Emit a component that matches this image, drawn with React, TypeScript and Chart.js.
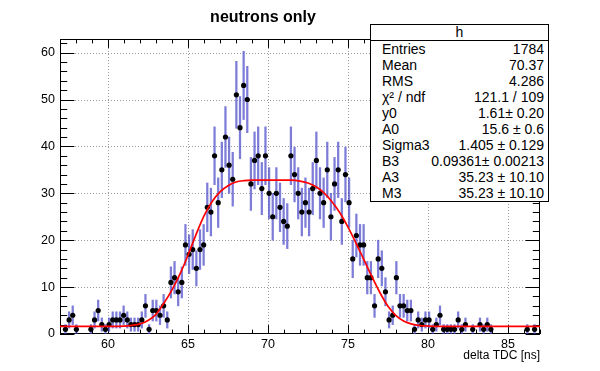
import React, { useEffect, useRef } from "react";
import { Chart, registerables } from "chart.js";

Chart.register(...registerables);

// ---------- data ----------
const X_MIN = 57;
const X_MAX = 87;
const N_BINS = 132;
const Y_MIN = 0;
const Y_MAX = 62.9;

// histogram contents, one per bin (bin i covers X_MIN + i*w .. X_MIN + (i+1)*w)
const COUNTS = [
  0, 1, 3, 4, 1, 0, 0, 0, 1, 3,
  5, 2, 1, 2, 3, 3, 3, 4, 3, 2,
  2, 2, 3, 6, 1, 5, 5, 4, 6, 3,
  11, 12, 9, 11, 19, 17, 18, 14, 18, 19,
  27, 26, 38, 28, 35, 42, 36, 33, 51, 44,
  53, 50, 32, 37, 38, 31, 38, 30, 25, 30,
  27, 24, 23, 38, 34, 30, 26, 28, 26, 31,
  37, 30, 28, 35, 25, 32, 35, 24, 34, 28,
  16, 21, 19, 19, 12, 12, 6, 16, 14, 9,
  3, 4, 12, 6, 6, 5, 5, 1, 3, 2,
  3, 3, 1, 2, 4, 1, 1, 1, 1, 3,
  1, 2, 0, 1, 0, 2, 1, 2, 1, 0,
  0, 0, 0, 0, 0, 0, 0, 0, 1, 0,
  1, 0,
];

// fitted curve
const FIT_X = [
  57, 60, 61, 61.5, 62, 62.5, 63, 63.5, 64, 64.5, 65, 65.5, 66, 66.5, 67, 67.5,
  68, 68.5, 69, 71.5, 72, 72.5, 73, 73.5, 74, 74.5, 75, 75.5, 76, 76.5, 77, 77.5,
  78, 78.5, 79, 79.5, 80, 81, 87,
];
const FIT_Y = [
  1.61, 1.62, 1.7, 1.85, 2.15, 2.9, 4.2, 6.6, 9.4, 12.8, 16.8, 21.2, 25.2, 28.2, 30.3, 31.6,
  32.4, 32.7, 32.8, 32.8, 32.6, 32.2, 31.4, 30.1, 28.2, 25.8, 22.8, 19.4, 15.8, 12.2, 8.8, 5.9,
  3.9, 2.7, 2.1, 1.8, 1.7, 1.62, 1.61,
];

const X_TICKS = [60, 65, 70, 75, 80, 85];
const Y_TICKS = [0, 10, 20, 30, 40, 50, 60];
const X_MINOR_STEP = 1;
const Y_MINOR_STEP = 2;

const TITLE = "neutrons only";
const X_TITLE = "delta TDC [ns]";
const STATS_HEADER = "h";
const STAT_LABELS = ["Entries", "Mean", "RMS", "χ² / ndf", "y0", "A0", "Sigma3", "B3", "A3", "M3"];
const STAT_VALUES = [
  "1784",
  "70.37",
  "4.286",
  "121.1 / 109",
  "1.61± 0.20",
  "15.6 ± 0.6",
  "1.405 ± 0.129",
  "0.09361± 0.00213",
  "35.23 ± 10.10",
  "35.23 ± 10.10",
];

const FONT = "'Liberation Sans', Arial, Helvetica, sans-serif";
const STATS_FONT = "'Liberation Sans Narrow', 'Arial Narrow', 'Liberation Sans', Arial, sans-serif";

// ---------- frame / grid / ROOT style ticks ----------
const rootFrame = {
  id: "rootFrame",
  beforeDatasetsDraw(chart: any) {
    const { ctx, chartArea: a, scales } = chart;
    const x = scales.x;
    const y = scales.y;
    const line = (x1: number, y1: number, x2: number, y2: number) => {
      ctx.beginPath();
      ctx.moveTo(x1, y1);
      ctx.lineTo(x2, y2);
      ctx.stroke();
    };
    ctx.save();
    // dotted grid
    ctx.strokeStyle = "#9a9a9a";
    ctx.lineWidth = 1;
    ctx.setLineDash([1, 2]);
    X_TICKS.forEach((v) => {
      const px = Math.round(x.getPixelForValue(v)) + 0.5;
      line(px, a.top, px, a.bottom);
    });
    Y_TICKS.forEach((v) => {
      if (v <= Y_MIN) return;
      const py = Math.round(y.getPixelForValue(v)) + 0.5;
      line(a.left, py, a.right, py);
    });
    ctx.setLineDash([]);
    // ticks (inside the frame, on all four sides)
    ctx.strokeStyle = "#000";
    const h = a.bottom - a.top;
    const w = a.right - a.left;
    const xMajor = 0.03 * h;
    const yMajor = 0.03 * w;
    for (let v = Math.ceil(X_MIN); v <= X_MAX; v += X_MINOR_STEP) {
      const len = v % 5 === 0 ? xMajor : xMajor / 2;
      const px = Math.round(x.getPixelForValue(v)) + 0.5;
      line(px, a.bottom, px, a.bottom - len);
      line(px, a.top, px, a.top + len);
    }
    for (let v = Y_MIN; v <= Y_MAX; v += Y_MINOR_STEP) {
      const len = v % 10 === 0 ? yMajor : yMajor / 2;
      const py = Math.round(y.getPixelForValue(v)) + 0.5;
      line(a.left, py, a.left + len, py);
      line(a.right, py, a.right - len, py);
    }
    // frame
    ctx.strokeRect(Math.round(a.left) + 0.5, Math.round(a.top) + 0.5, Math.round(w) - 1, Math.round(h) - 1);
    ctx.restore();
  },
};

export default function App() {
  const ref = useRef<HTMLCanvasElement>(null);

  useEffect(() => {
    document.body.style.margin = "0";
    const binWidth = (X_MAX - X_MIN) / N_BINS;
    const bins = COUNTS.map((c, i) => ({ x: X_MIN + (i + 0.5) * binWidth, c })).filter((b) => b.c > 0);
    const points = bins.map((b) => ({ x: b.x, y: b.c }));
    const errors = bins.map((b) => ({ x: b.x, y: [b.c - Math.sqrt(b.c), b.c + Math.sqrt(b.c)] }));
    const fit = FIT_X.map((v, i) => ({ x: v, y: FIT_Y[i] }));

    const tickFont = { family: FONT, size: 12.5 };

    const chart = new Chart(ref.current as HTMLCanvasElement, {
      type: "scatter",
      data: {
        datasets: [
          {
            type: "line",
            data: fit,
            borderColor: "#ff0000",
            borderWidth: 1.7,
            pointRadius: 0,
            cubicInterpolationMode: "monotone",
            fill: false,
          } as any,
          {
            type: "scatter",
            data: points,
            pointRadius: 2.6,
            pointBackgroundColor: "#000",
            pointBorderWidth: 0,
            showLine: false,
          } as any,
          {
            type: "bar",
            data: errors,
            backgroundColor: "rgba(70,70,200,0.7)",
            borderWidth: 0,
            barThickness: 1.6,
            grouped: false,
          } as any,
        ],
      },
      options: {
        responsive: false,
        maintainAspectRatio: false,
        animation: false,
        devicePixelRatio: 1,
        layout: { padding: { top: 39, right: 60, left: 0, bottom: 0 } },
        plugins: {
          legend: { display: false },
          tooltip: { enabled: false },
          title: { display: false },
        },
        scales: {
          x: {
            type: "linear",
            min: X_MIN,
            max: X_MAX,
            offset: false,
            grid: { display: false, drawTicks: false, offset: false },
            border: { display: false },
            afterBuildTicks: (s: any) => {
              s.ticks = X_TICKS.map((v) => ({ value: v }));
            },
            afterFit: (s: any) => {
              s.height = 37;
            },
            ticks: {
              font: tickFont,
              color: "#000",
              padding: 3,
              maxRotation: 0,
              autoSkip: false,
            },
            title: {
              display: true,
              text: X_TITLE,
              align: "end",
              color: "#000",
              font: { family: FONT, size: 12 },
              padding: { top: 0, bottom: 8 },
            },
          },
          y: {
            type: "linear",
            min: Y_MIN,
            max: Y_MAX,
            grid: { display: false, drawTicks: false },
            border: { display: false },
            afterBuildTicks: (s: any) => {
              s.ticks = Y_TICKS.map((v) => ({ value: v }));
            },
            afterFit: (s: any) => {
              s.width = 60;
            },
            ticks: { font: tickFont, color: "#000", padding: 5, autoSkip: false },
          },
        },
      } as any,
      plugins: [rootFrame],
    });
    return () => chart.destroy();
  }, []);

  return (
    <div style={{ position: "relative", width: 600, height: 371, background: "#fff", fontFamily: FONT, color: "#000" }}>
      <canvas ref={ref} width={600} height={371} style={{ position: "absolute", left: 0, top: 0, width: 600, height: 371 }} />
      <div
        style={{
          position: "absolute",
          left: 0,
          width: 526,
          top: 7,
          textAlign: "center",
          fontWeight: "bold",
          fontSize: 16,
          lineHeight: "20px",
        }}
      >
        {TITLE}
      </div>
      <div
        style={{
          position: "absolute",
          left: 370,
          top: 24,
          width: 179,
          boxSizing: "border-box",
          border: "1px solid #000",
          background: "#fff",
          fontSize: 14,
          fontFamily: STATS_FONT,
        }}
      >
        <div style={{ height: 15, lineHeight: "15px", textAlign: "center", borderBottom: "1px solid #000" }}>
          {STATS_HEADER}
        </div>
        {STAT_LABELS.map((lab, i) => (
          <div
            key={lab}
            style={{
              display: "flex",
              justifyContent: "space-between",
              height: 16,
              lineHeight: "16px",
              padding: "0 4px 0 11px",
              whiteSpace: "nowrap",
            }}
          >
            <span>{lab}</span>
            <span>{STAT_VALUES[i]}</span>
          </div>
        ))}
      </div>
    </div>
  );
}
